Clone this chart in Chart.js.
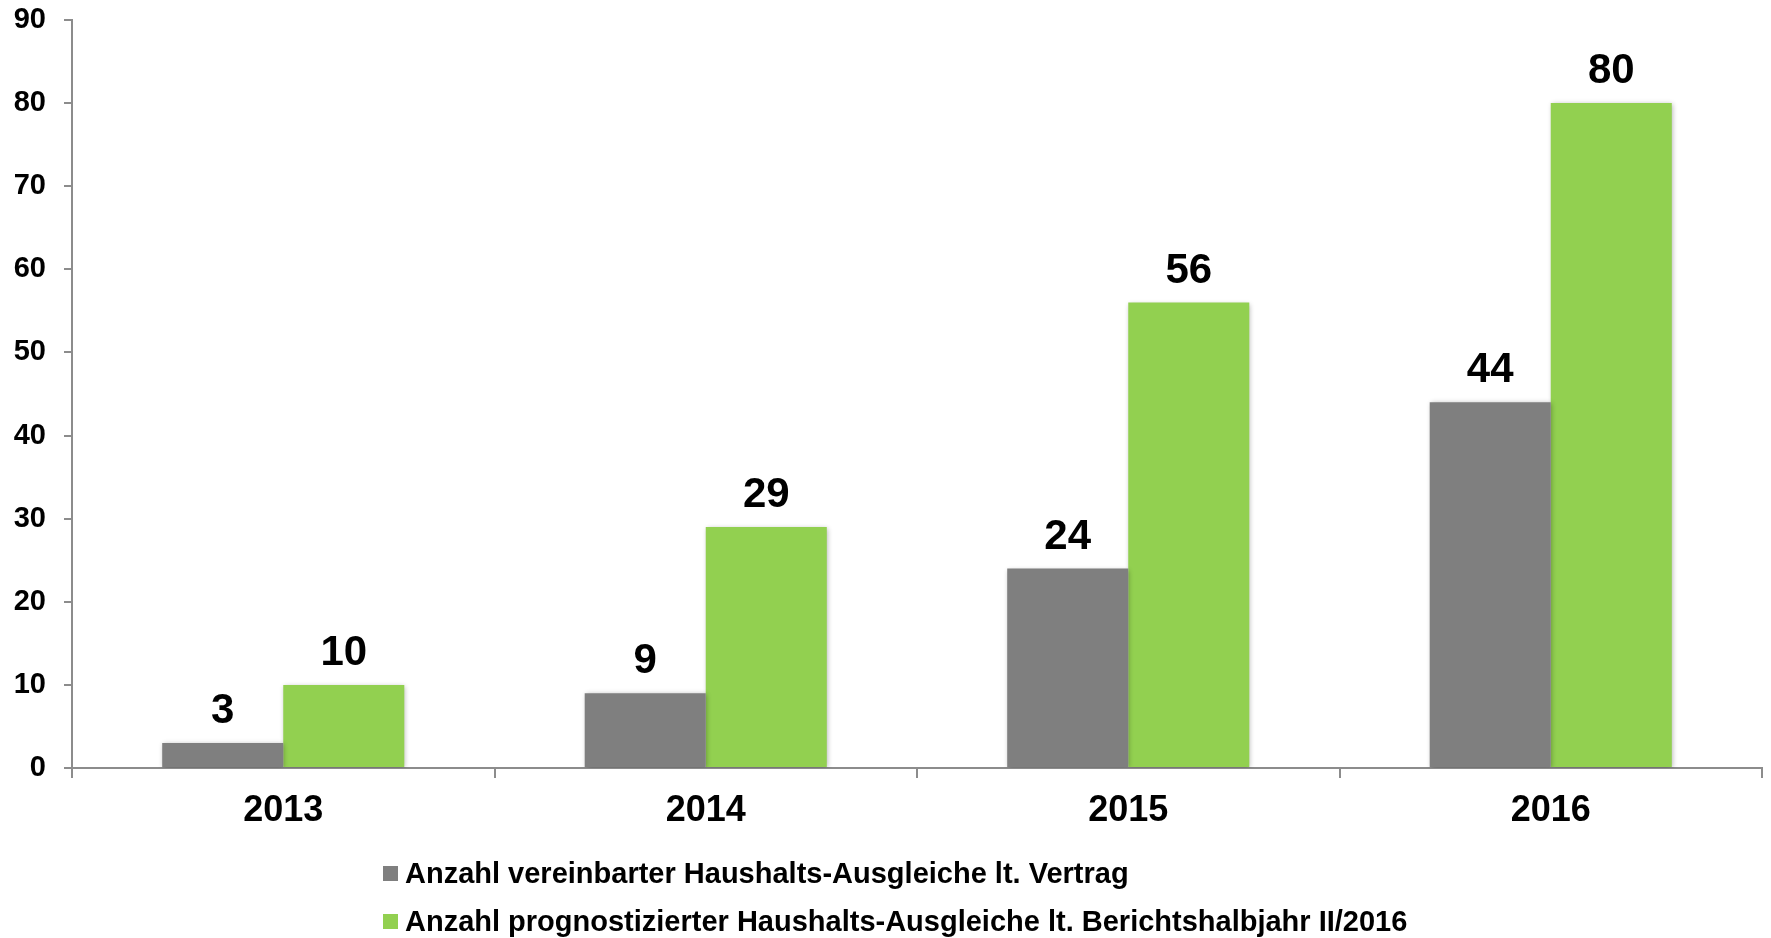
<!DOCTYPE html>
<html lang="de">
<head>
<meta charset="utf-8">
<title>Haushalts-Ausgleiche</title>
<script src="https://cdn.jsdelivr.net/npm/chart.js@4.4.1/dist/chart.umd.min.js"></script>
<style>
    body { margin: 0; background: #ffffff; }
    .wrap { position: relative; width: 1771px; height: 938px; }
    .legend { position: absolute; left: 383px; top: 849px; font-family: "Liberation Sans", Arial, sans-serif; font-weight: bold; font-size: 29px; color: #000; }
    .legend-item { display: flex; align-items: center; height: 48px; }
    .legend-box { width: 15px; height: 15px; margin-right: 7px; }
</style>
</head>
<body>
<div class="wrap">
    <canvas id="barChart" width="1771" height="938"></canvas>
    <div class="legend" id="legend"></div>
</div>
<script>
// Andmed
const years = ['2013', '2014', '2015', '2016'];
const vereinbart = [3, 9, 24, 44];
const prognostiziert = [10, 29, 56, 80];
const seriesLabels = [
    'Anzahl vereinbarter Haushalts-Ausgleiche lt. Vertrag',
    'Anzahl prognostizierter Haushalts-Ausgleiche lt. Berichtshalbjahr II/2016'
];
const seriesColors = ['#7F7F7F', '#92D050'];
const yMax = 90;
const yStep = 10;

const fontFamily = "'Liberation Sans', Arial, sans-serif";
const axisColor = '#8c8c8c';

// Varjud + väärtused tulpade kohal
const barLabelsPlugin = {
    id: 'barLabels',
    beforeDatasetsDraw(chart) {
        const ctx = chart.ctx;
        ctx.save();
        ctx.shadowColor = 'rgba(0, 0, 0, 0.3)';
        ctx.shadowBlur = 5;
        ctx.shadowOffsetX = 1;
        ctx.shadowOffsetY = 1;
    },
    afterDatasetsDraw(chart) {
        const ctx = chart.ctx;
        ctx.restore();
        ctx.save();
        ctx.font = 'bold 42px ' + fontFamily;
        ctx.fillStyle = '#000';
        ctx.textAlign = 'center';
        ctx.textBaseline = 'alphabetic';
        chart.data.datasets.forEach((ds, i) => {
            chart.getDatasetMeta(i).data.forEach((bar, j) => {
                ctx.fillText(String(ds.data[j]), bar.x, bar.y - 20);
            });
        });
        ctx.restore();
    }
};

const ctx = document.getElementById('barChart').getContext('2d');
new Chart(ctx, {
    type: 'bar',
    data: {
        labels: years,
        datasets: [
            { label: seriesLabels[0], data: vereinbart, backgroundColor: seriesColors[0] },
            { label: seriesLabels[1], data: prognostiziert, backgroundColor: seriesColors[1] }
        ]
    },
    options: {
        responsive: false,
        animation: false,
        layout: { padding: { top: 20, right: 9, left: 0, bottom: 0 } },
        datasets: {
            bar: { barPercentage: 1.0, categoryPercentage: 0.573 }
        },
        plugins: {
            legend: { display: false },
            tooltip: { enabled: false }
        },
        scales: {
            x: {
                afterFit: (scale) => { scale.height = 170; },
                grid: { display: true, drawOnChartArea: false, offset: true, tickLength: 10, color: axisColor, lineWidth: 2 },
                border: { display: true, color: axisColor, width: 2 },
                ticks: { color: '#000', padding: 11, font: { family: fontFamily, size: 36, weight: 'bold' } }
            },
            y: {
                min: 0,
                max: yMax,
                afterFit: (scale) => {
                    scale.width = 72;
                    scale.paddingTop = 0;
                    scale.paddingBottom = 0;
                },
                grid: { display: true, drawOnChartArea: false, tickLength: 8, color: axisColor, lineWidth: 2 },
                border: { display: true, color: axisColor, width: 2 },
                ticks: { stepSize: yStep, color: '#000', padding: 18, font: { family: fontFamily, size: 29, weight: 'bold' } }
            }
        }
    },
    plugins: [barLabelsPlugin]
});

// Legend
const legendEl = document.getElementById('legend');
seriesLabels.forEach((label, i) => {
    const item = document.createElement('div');
    item.className = 'legend-item';
    const box = document.createElement('span');
    box.className = 'legend-box';
    box.style.background = seriesColors[i];
    const text = document.createElement('span');
    text.textContent = label;
    item.appendChild(box);
    item.appendChild(text);
    legendEl.appendChild(item);
});
</script>
</body>
</html>
